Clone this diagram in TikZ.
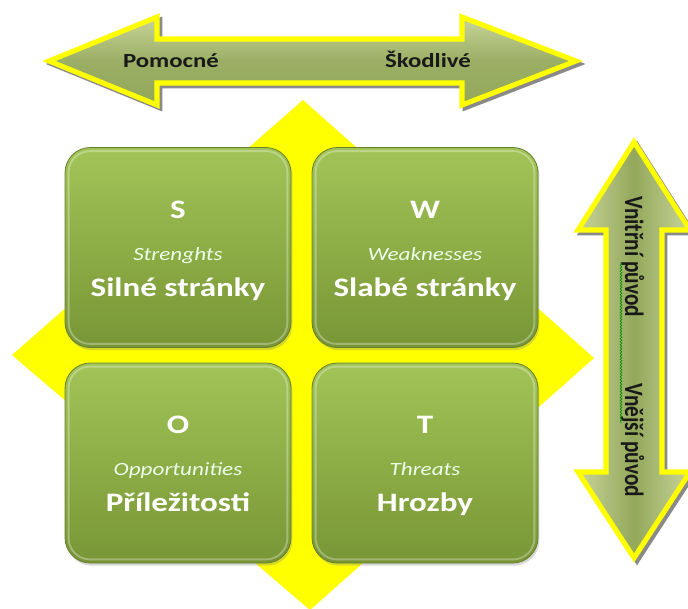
\documentclass[tikz,border=0pt]{standalone}
\usepackage{fontspec}
\setmainfont{Carlito}
\usetikzlibrary{shadows, calc, decorations.pathmorphing}

\definecolor{swotyellow}{HTML}{FFFF00}
\definecolor{boxtop}{HTML}{A2C457}
\definecolor{boxbot}{HTML}{789636}
\definecolor{arrlight}{HTML}{C8D499}
\definecolor{arrdark}{HTML}{93A85B}

\tikzset{
  swotbox/.style={rounded corners=19pt, minimum width=169.5pt, minimum height=150pt,
    top color=boxtop, bottom color=boxbot, draw=boxbot!85!black, line width=0.6pt,
    drop shadow={opacity=0.3, shadow xshift=1pt, shadow yshift=-2pt}},
  letter/.style={text=white, anchor=base, xscale=1.24, font=\bfseries\fontsize{20}{24}\selectfont},
  engname/.style={text=white!92!green, anchor=base, xscale=1.24, font=\itshape\fontsize{14}{17}\selectfont},
  czname/.style={text=white, anchor=base, xscale=1.24, font=\bfseries\fontsize{20}{24}\selectfont},
  arrlabel/.style={text=black!90, anchor=base, xscale=1.24, font=\bfseries\fontsize{15}{18}\selectfont},
  vlabel/.style={text=black!90, anchor=base, rotate=-90, yscale=1.24, font=\bfseries\fontsize{16}{19}\selectfont},
  arrshadow/.style={draw=black!65, line width=3.5pt, line join=miter, opacity=0.7},
  arrbody/.style={draw=swotyellow, line width=3.8pt, line join=miter}
}

\newcommand{\toparrow}{(49,61) -- (157,17) -- (157,39) -- (462,39) -- (462,17) -- (576,61)
  -- (462,105) -- (462,83) -- (157,83) -- (157,105) -- cycle}
\newcommand{\sidearrow}{(634,142) -- (690,230) -- (662,230) -- (662,472) -- (690,472) -- (634,558)
  -- (578,472) -- (606,472) -- (606,230) -- (578,230) -- cycle}

\begin{document}
\begin{tikzpicture}[x=0.75pt, y=-0.75pt]
\useasboundingbox (0,0) rectangle (688,608);
\fill[white] (0,0) rectangle (688,608);

%% yellow diamond behind the boxes
\fill[swotyellow] (303,100) -- (594,358) -- (310,610) -- (12,355) -- cycle;

%% top arrow
\draw[arrshadow, shift={(3,3)}] \toparrow;
\draw[arrbody, top color=arrlight, bottom color=arrdark, middle color=arrdark!85!arrlight] \toparrow;
\node[arrlabel] (help) at (171,67.5) {Pomocné};
\node[arrlabel] (harm) at (428,67.5) {Škodlivé};

%% side arrow
\draw[arrshadow, shift={(3,3)}] \sidearrow;
\draw[arrbody, left color=arrlight, right color=arrlight, middle color=arrdark] \sidearrow;
\node[vlabel] (inner) at (625,256.5) {Vnitřní původ};
\node[vlabel] (outer) at (625,440) {Vnější původ};
\draw[green!55!black, line width=0.5pt, decorate,
  decoration={snake, amplitude=0.6pt, segment length=2.2pt}] (621,263) -- (621,423);

%% swot boxes
\foreach \nm/\x/\y/\ltr/\en/\cz in {
  s/178/247.5/S/Strenghts/Silné stránky,
  w/425/247.5/W/Weaknesses/Slabé stránky,
  o/178/463/O/Opportunities/Příležitosti,
  t/425/463/T/Threats/Hrozby}
{
  \node[swotbox] (\nm) at (\x,\y) {};
  \draw[white, opacity=0.3, line width=1.4pt, rounded corners=16pt]
    ($(\nm.south west)+(4,-4)$) rectangle ($(\nm.north east)+(-4,4)$);
  \node[letter] (\nm-ltr) at ($(\nm.center)+(0,-29.5)$) {\ltr};
  \node[engname] (\nm-en) at ($(\nm.center)+(0,12.5)$) {\en};
  \node[czname] (\nm-cz) at ($(\nm.center)+(0,48.5)$) {\cz};
}

\end{tikzpicture}
\end{document}
